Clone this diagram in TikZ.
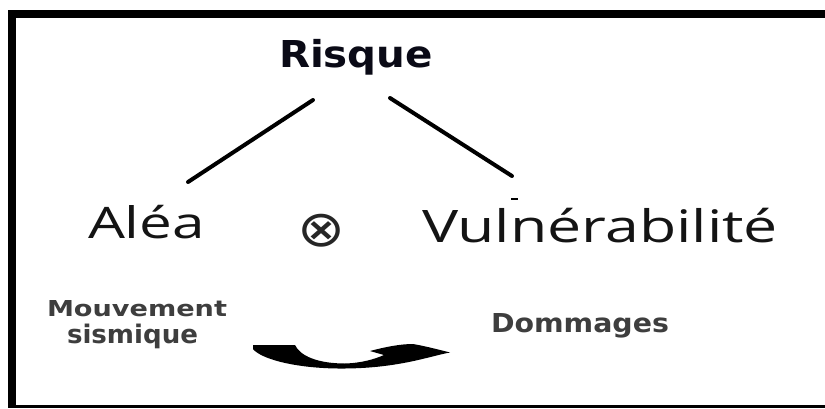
\documentclass[tikz,border=0pt]{standalone}
\usepackage{fontspec}
\newfontfamily\ofont{Open Sans}
\newfontfamily\dfont{DejaVu Sans}
\newlength\fbw \newlength\fbh
% fit text to a width and a height of reference letter #5
\newcommand\fitto[5]{%
  \settowidth\fbw{#3#4}\settoheight\fbh{#3#5}%
  \pgfmathsetmacro\fbsx{#1/\fbw}%
  \pgfmathsetmacro\fbsy{#2/\fbh}%
  \scalebox{\fbsx}[\fbsy]{#3#4}}
\definecolor{ink}{RGB}{10,10,22}
\definecolor{grayink}{RGB}{62,62,62}
\tikzset{
  lbl/.style={inner sep=0pt, outer sep=0pt, anchor=base west},
  branch/.style={line width=4pt, line cap=round, draw=black},
  framebar/.style={fill=black, draw=none}
}
\begin{document}
\begin{tikzpicture}[x=1pt,y=1pt]
\useasboundingbox (0,0) rectangle (825,-408);
\fill[white] (0,0) rectangle (825,-408);
% frame
\path[framebar] (8,-10) rectangle (825,-18.3);
\path[framebar] (8,-10) rectangle (16,-407.5);
\path[framebar] (8,-405) rectangle (825,-407.5);
% texts
\node[lbl, text=ink] (risque) at (279,-67) {\fitto{154}{27}{\dfont\bfseries\fontsize{20}{24}\selectfont}{Risque}{H}};
\node[lbl, text=black!92] (alea) at (88,-238) {\fitto{117}{31}{\ofont\fontsize{20}{24}\selectfont}{Aléa}{H}};
\node[lbl, text=black!92] (vuln) at (422,-242) {\fitto{356}{32}{\ofont\fontsize{20}{24}\selectfont}{Vulnérabilité}{H}};
\node[inner sep=0pt, text=black!85] (otimes) at (321.5,-231) {\resizebox*{48pt}{33pt}{\dfont ⊗}};
\node[lbl, text=grayink] (mouv) at (47,-316) {\fitto{180}{16}{\dfont\bfseries\fontsize{20}{24}\selectfont}{Mouvement}{H}};
\node[lbl, text=grayink] (sism) at (67,-343.5) {\fitto{131}{14}{\dfont\bfseries\fontsize{20}{24}\selectfont}{sismique}{x}};
\node[lbl, text=grayink] (domm) at (491,-332) {\fitto{178}{19}{\dfont\bfseries\fontsize{20}{24}\selectfont}{Dommages}{H}};
% branches
\coordinate (rl) at (313,-100);
\coordinate (al) at (188,-182);
\coordinate (rr) at (390,-98);
\coordinate (vr) at (512,-176);
\draw[branch] (rl) -- (al);
\draw[branch] (rr) -- (vr);
% small dash
\coordinate (d1) at (511,-199);
\coordinate (d2) at (518,-199);
\draw[line width=1.5pt] (d1) -- (d2);
% curved arrow
\fill[black] (253,-345) -- (295,-345)
  .. controls (300,-356) and (318,-363.5) .. (345,-363.5)
  .. controls (362,-363) and (375,-359) .. (384,-355)
  -- (370,-351)
  .. controls (385,-347) and (400,-344) .. (413,-344)
  .. controls (425,-346) and (440,-350) .. (450,-352.5)
  .. controls (430,-356) and (400,-368) .. (345,-368.5)
  .. controls (300,-369) and (262,-360) .. (253,-349)
  -- cycle;
\end{tikzpicture}
\end{document}
